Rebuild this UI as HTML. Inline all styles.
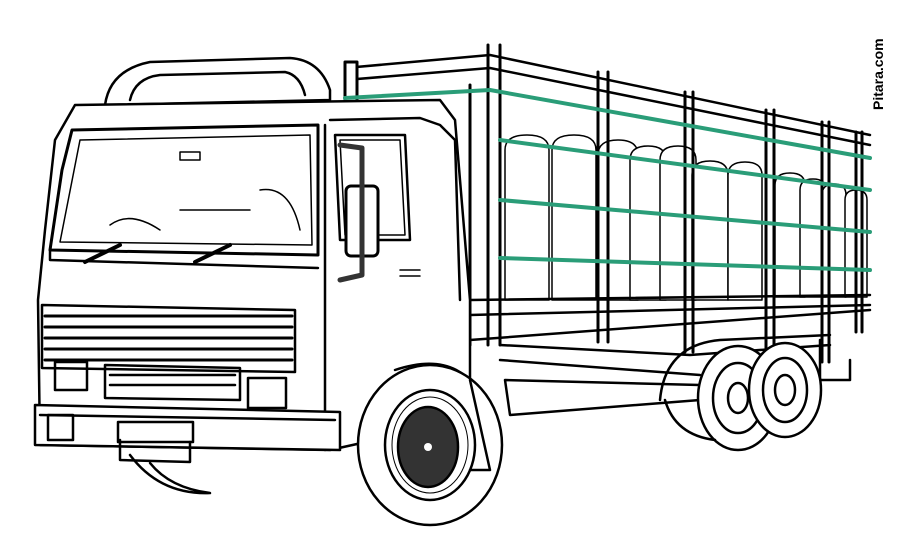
<!DOCTYPE html>
<html><head><meta charset="utf-8"><style>
html,body{margin:0;padding:0;background:#fff;width:900px;height:543px;overflow:hidden}
svg{display:block}
</style></head><body>
<svg width="900" height="543" viewBox="0 0 900 543" xmlns="http://www.w3.org/2000/svg" fill="none" stroke="#000" stroke-width="2.5" stroke-linejoin="round" stroke-linecap="round">
<g stroke-width="1.5" fill="#fff">
<path d="M505 150 q0-15 22-15 q22 0 22 15 v150 h-44z"/>
<path d="M552 150 q0-15 22-15 q22 0 22 15 v150 h-44z"/>
<path d="M598 155 q0-15 20-15 q20 0 20 15 v145 h-40z"/>
<path d="M630 160 q0-14 18-14 q18 0 18 14 v140 h-36z"/>
<path d="M660 160 q0-14 18-14 q18 0 18 14 v140 h-36z"/>
<path d="M692 175 q0-14 18-14 q18 0 18 14 v125 h-36z"/>
<path d="M728 175 q0-13 17-13 q17 0 17 13 v125 h-34z"/>
<path d="M775 185 q0-12 15-12 q15 0 15 12 v112 h-30z"/>
<path d="M800 190 q0-11 13-11 q13 0 13 11 v107 h-26z"/>
<path d="M822 195 q0-11 12-11 q12 0 12 11 v102 h-24z"/>
<path d="M845 200 q0-10 11-10 q11 0 11 10 v97 h-22z"/>
</g>
<path d="M345 68 L490 55 L870 135"/>
<path d="M345 80 L490 68 L870 145"/>
<g stroke-width="3">
<rect x="345" y="62" width="12" height="40" fill="#fff"/>
<path d="M488 45 v300 M500 45 v300"/>
<path d="M598 72 v270 M608 72 v270"/>
<path d="M685 92 v260 M693 92 v260"/>
<path d="M766 110 v250 M774 110 v250"/>
<path d="M822 122 v240 M829 122 v240"/>
<path d="M856 132 v200 M862 132 v200"/>
<path d="M470 85 v260"/>
</g>
<g stroke="#2a9d78" stroke-width="4">
<path d="M345 98 L490 90 L870 158"/>
<path d="M500 140 L870 190"/>
<path d="M500 200 L870 232"/>
<path d="M500 258 L870 270"/>
</g>
<path d="M470 300 L870 295 M470 315 L870 305 M470 340 L870 310"/>
<path d="M500 345 L690 355 L830 345 M500 360 L700 375 M505 380 L700 385 L700 400 L510 415 Z"/>
<path d="M820 340 v40 h30 v-20"/>
<path d="M660 400 q5 -55 60 -60 L830 335"/>
<ellipse cx="738" cy="398" rx="40" ry="52" fill="#fff"/>
<ellipse cx="738" cy="398" rx="25" ry="35"/>
<ellipse cx="738" cy="398" rx="10" ry="15"/>
<ellipse cx="785" cy="390" rx="36" ry="47" fill="#fff"/>
<ellipse cx="785" cy="390" rx="22" ry="32"/>
<ellipse cx="785" cy="390" rx="10" ry="15"/>
<path d="M665 400 q10 35 50 40"/>
<path d="M105 105 Q110 70 150 62 L290 58 Q320 60 330 90 L330 100 L105 105Z" fill="#fff"/>
<path d="M130 100 Q135 78 160 75 L285 72 Q300 75 305 95"/>
<path d="M75 105 L440 100 L455 120 L470 300 L470 420 L420 430 L330 450 L40 445 L38 300 L45 230 L55 140 Z" fill="#fff"/>
<path d="M330 120 L420 118 L440 125 L455 140 L460 300"/>
<path d="M325 125 L325 450"/>
<path d="M72 130 L318 125 L318 255 L50 250 L62 170 Z" stroke-width="3"/>
<path d="M80 140 L310 135 L312 245 L60 242 Z" stroke-width="1.5"/>
<path d="M110 225 q20 -15 50 5 M180 210 h70 M260 190 q30 -5 40 40 M180 152 h20 v8 h-20z" stroke-width="1.5"/>
<path d="M85 262 L120 245 M195 262 L230 245" stroke-width="4"/>
<path d="M50 250 L50 260 L318 268"/>
<path d="M335 135 L405 135 L410 240 L340 240 Z"/>
<path d="M340 140 L400 140 L405 235 L345 235 Z" stroke-width="1.5"/>
<rect x="346" y="186" width="32" height="70" rx="5" fill="#fff" stroke-width="3"/>
<path d="M340 145 L362 148 L362 275 L340 280" stroke="#333" stroke-width="5"/>
<path d="M400 270 h20 M400 276 h20" stroke-width="1.5"/>
<path d="M42 305 L295 310 L295 372 L42 368 Z"/>
<g stroke-width="3">
<path d="M45 316 H292 M45 327 H292 M45 338 H292 M45 349 H292 M45 360 H292"/>
</g>
<path d="M105 365 L240 368 L240 400 L105 398 Z"/>
<path d="M110 375 H235 M110 385 H235"/>
<rect x="55" y="362" width="32" height="28"/>
<rect x="248" y="378" width="38" height="30"/>
<path d="M35 405 L340 412 L340 450 L35 445 Z" fill="#fff"/>
<path d="M40 415 L335 420"/>
<rect x="48" y="415" width="25" height="25"/>
<rect x="118" y="422" width="75" height="20"/>
<path d="M120 440 L120 460 L190 462 L190 442"/>
<path d="M130 455 q30 40 80 38 q-40 -5 -60 -30"/>
<path d="M395 370 Q470 345 490 420 L490 470" fill="#fff"/>
<ellipse cx="430" cy="445" rx="72" ry="80" fill="#fff"/>
<ellipse cx="430" cy="445" rx="45" ry="55"/>
<ellipse cx="430" cy="445" rx="38" ry="48" stroke-width="1"/>
<ellipse cx="428" cy="447" rx="30" ry="40" fill="#333"/>
<circle cx="428" cy="447" r="4" fill="#fff" stroke="none"/>
<path d="M470 380 L490 470 L470 470"/>
<text x="0" y="0" transform="translate(883,110) rotate(-90)" font-family="Liberation Sans, sans-serif" font-size="14" font-weight="bold" fill="#000" stroke="none">Pitara.com</text>
</svg>
</body></html>
